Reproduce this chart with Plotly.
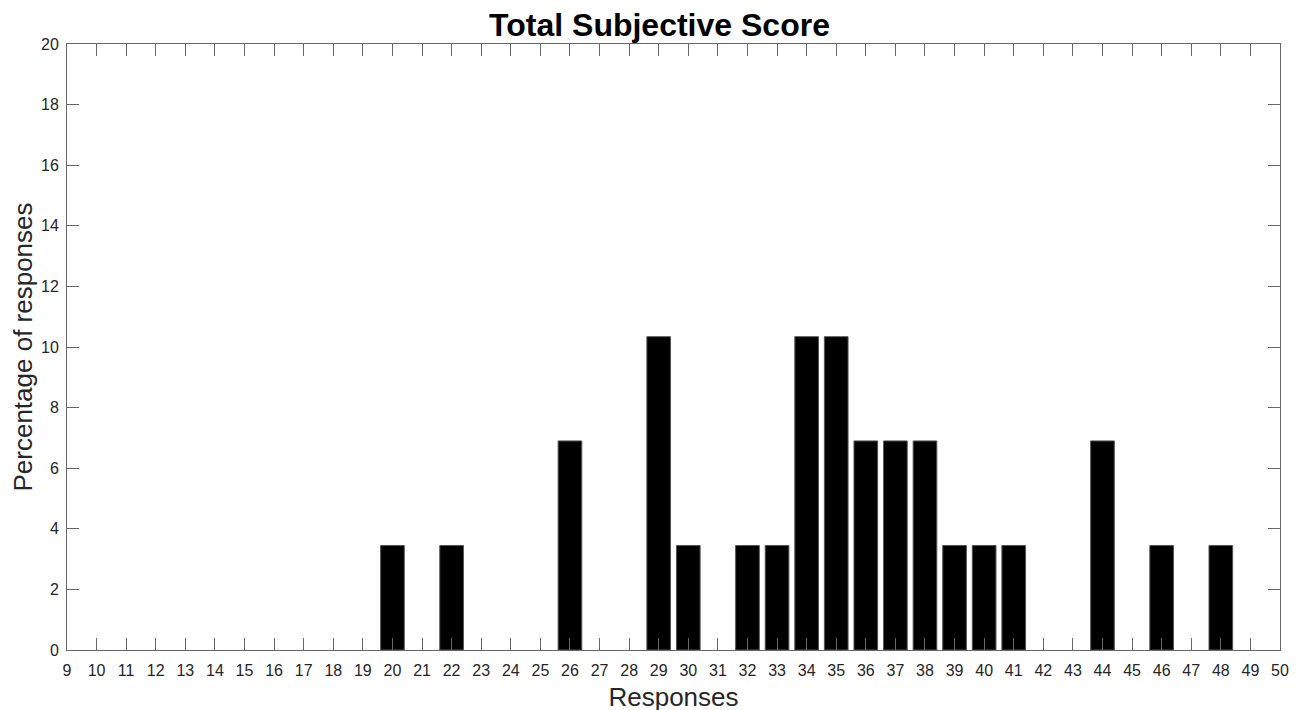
import plotly.graph_objects as go

responses = [20, 22, 26, 29, 30, 32, 33, 34, 35, 36, 37, 38, 39, 40, 41, 44, 46, 48]
percentages = [3.45, 3.45, 6.90, 10.34, 3.45, 3.45, 3.45, 10.34, 10.34, 6.90, 6.90, 6.90,
               3.45, 3.45, 3.45, 6.90, 3.45, 3.45]
x_ticks = list(range(9, 51))
y_ticks = list(range(0, 21, 2))

fig = go.Figure()
fig.add_trace(go.Bar(
    x=responses, y=percentages, width=0.8,
    marker=dict(color="black", line=dict(color="#555555", width=1)),
))

FONT = "Liberation Sans, Arial, sans-serif"
axis_font = dict(family=FONT, size=16, color="#262626")
fig.update_layout(
    width=1303, height=710,
    margin=dict(l=59, r=31, t=36, b=68, autoexpand=False),
    paper_bgcolor="white", plot_bgcolor="white",
    showlegend=False,
    title=dict(text="<b>Total Subjective Score</b>", x=0.5, xanchor="center",
               y=0.976, yanchor="middle",
               font=dict(family=FONT, size=32, color="black")),
    xaxis=dict(range=[9, 50], tickvals=x_ticks, ticktext=[str(v) for v in x_ticks],
               ticks="inside", ticklen=12, tickcolor="#666666", tickwidth=1,
               showline=True, linecolor="#666666", linewidth=1, mirror="ticks",
               showgrid=False, zeroline=False, tickfont=axis_font, ticklabelstandoff=6,
               automargin=False,
               title=dict(text="Responses", standoff=9,
                          font=dict(family=FONT, size=26, color="#262626"))),
    yaxis=dict(range=[0, 20], tickvals=y_ticks, ticktext=[str(v) for v in y_ticks],
               ticks="inside", ticklen=12, tickcolor="#666666", tickwidth=1,
               showline=True, linecolor="#666666", linewidth=1, mirror="ticks",
               showgrid=False, zeroline=False, tickfont=axis_font, ticklabelstandoff=4,
               automargin=False,
               title=dict(text="Percentage of responses", standoff=6,
                          font=dict(family=FONT, size=26, color="#262626"))),
)

fig.write_html("out.html")
